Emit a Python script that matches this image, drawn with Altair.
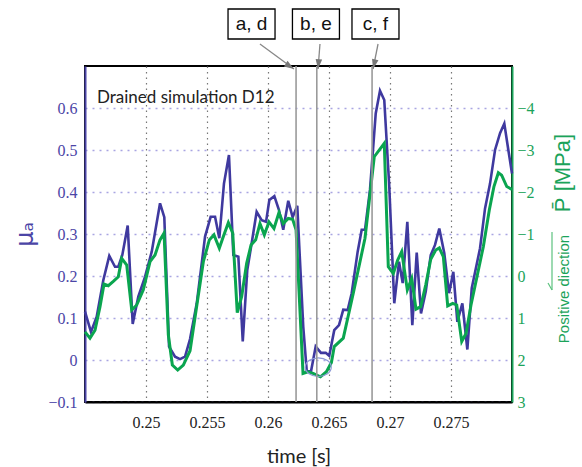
import altair as alt
import pandas as pd

# ---- data ----
blue_t = [0.24500, 0.24549, 0.24596, 0.24650, 0.24699, 0.24746, 0.24773, 0.24806, 0.24850,
          0.24891, 0.24937, 0.24992, 0.25047, 0.25115, 0.25150, 0.25189, 0.25238, 0.25279,
          0.25320, 0.25361, 0.25416, 0.25484, 0.25530, 0.25566, 0.25601, 0.25639, 0.25680,
          0.25716, 0.25757, 0.25793, 0.25830, 0.25866, 0.25907, 0.25948, 0.25984, 0.26011,
          0.26052, 0.26090, 0.26125, 0.26166, 0.26202, 0.26240, 0.26289, 0.26317, 0.26352,
          0.26391, 0.26434, 0.26473, 0.26502, 0.26543, 0.26582, 0.26617, 0.26653, 0.26686,
          0.26735, 0.26768, 0.26795, 0.26836, 0.26883, 0.26918, 0.26953, 0.26994, 0.27035,
          0.27074, 0.27104, 0.27142, 0.27183, 0.27219, 0.27254, 0.27293, 0.27334, 0.27369,
          0.27404, 0.27445, 0.27484, 0.27519, 0.27552, 0.27593, 0.27634, 0.27670, 0.27738,
          0.27779, 0.27820, 0.27861, 0.27902, 0.27937, 0.27970, 0.28000]
blue_mu = [0.115, 0.067, 0.103, 0.190, 0.248, 0.222, 0.222, 0.250, 0.320,
           0.086, 0.151, 0.198, 0.258, 0.373, 0.340, 0.032, 0.008, 0.002,
           0.008, 0.050, 0.135, 0.294, 0.341, 0.341, 0.290, 0.420, 0.488,
           0.250, 0.246, 0.044, 0.214, 0.278, 0.353, 0.333, 0.329, 0.381,
           0.390, 0.357, 0.310, 0.379, 0.340, 0.367, 0.079, -0.024, -0.028,
           0.032, 0.017, 0.017, 0.010, 0.071, 0.083, 0.120, 0.119, 0.159,
           0.258, 0.310, 0.310, 0.405, 0.587, 0.641, 0.619, 0.413, 0.135,
           0.234, 0.183, 0.329, 0.083, 0.256, 0.111, 0.163, 0.250, 0.274,
           0.313, 0.254, 0.159, 0.210, 0.091, 0.135, 0.025, 0.171, 0.266,
           0.361, 0.420, 0.500, 0.540, 0.563, 0.500, 0.444]

green_t = [0.24500, 0.24541, 0.24582, 0.24623, 0.24656, 0.24691, 0.24732, 0.24773, 0.24801,
           0.24842, 0.24883, 0.24924, 0.24978, 0.25033, 0.25074, 0.25115, 0.25148, 0.25183,
           0.25216, 0.25260, 0.25306, 0.25361, 0.25470, 0.25519, 0.25557, 0.25601, 0.25634,
           0.25675, 0.25711, 0.25748, 0.25784, 0.25825, 0.25861, 0.25899, 0.25934, 0.25970,
           0.26008, 0.26049, 0.26090, 0.26125, 0.26166, 0.26202, 0.26230, 0.26287, 0.26328,
           0.26369, 0.26430, 0.26479, 0.26520, 0.26543, 0.26617, 0.26699, 0.26795, 0.26871,
           0.26953, 0.26986, 0.27027, 0.27063, 0.27096, 0.27142, 0.27178, 0.27213, 0.27252,
           0.27293, 0.27334, 0.27375, 0.27404, 0.27437, 0.27473, 0.27514, 0.27547, 0.27588,
           0.27623, 0.27664, 0.27765, 0.27814, 0.27852, 0.27888, 0.27915, 0.27957, 0.28000]
green_p = [1.33, 1.48, 1.29, 0.73, 0.19, 0.23, 0.13, 0.02, -0.42,
           -0.26, 0.81, 0.69, 0.33, -0.34, -0.50, -0.86, -1.02, 1.40,
           2.12, 2.24, 2.12, 1.78, -0.34, -0.86, -0.98, -0.66, -0.94,
           -1.27, -1.02, 0.87, 0.49, -0.30, -0.74, -0.86, -1.25, -0.98,
           -1.29, -1.13, -1.51, -1.25, -1.37, -1.35, -1.10, 2.32, 2.28,
           2.32, 2.40, 2.28, 2.06, 1.68, 1.48, 0.41, -0.90, -2.84,
           -3.16, -0.22, -0.06, -0.38, -0.58, 0.33, 0.06, 0.79, 0.73,
           0.21, -0.40, -0.62, -0.67, -0.46, 0.71, 0.65, 0.69, 1.56,
           1.37, 0.69, -0.70, -1.57, -2.13, -2.46, -2.40, -2.13, -2.06]

event_t = [0.2623, 0.2640, 0.26853]
label_t = [0.25865, 0.26393, 0.26881]
label_text = ["a, d", "b, e", "c, f"]
arrow_t0 = [0.25934, 0.26426, 0.26902]
arrow_t1 = [0.26213, 0.26410, 0.26861]
arrow_angle = [123, 185, 193]
circle_t = [0.26412]
circle_mu = [-0.017]

x_ticks = [0.25, 0.255, 0.26, 0.265, 0.27, 0.275]
left_ticks = [-0.1, 0, 0.1, 0.2, 0.3, 0.4, 0.5, 0.6]
right_ticks = [-4, -3, -2, -1, 0, 1, 2, 3]

BLUE = "#3f399f"
GREEN = "#0aa54f"
AXBLUE = "#4b45a6"
AXGREEN = "#1ba35a"

blue_df = pd.DataFrame({"t": blue_t, "mu": blue_mu})
green_df = pd.DataFrame({"t": green_t, "p": green_p})
event_df = pd.DataFrame({"t": event_t})
label_df = pd.DataFrame({"t": label_t, "txt": label_text})
arrow_df = pd.DataFrame({"t0": arrow_t0, "t1": arrow_t1, "ang": arrow_angle})
circle_df = pd.DataFrame({"t": circle_t, "mu": circle_mu})

xscale = alt.Scale(domain=[0.245, 0.28], nice=False, zero=False)
lscale = alt.Scale(domain=[-0.1, 0.7], nice=False, zero=False)
rscale = alt.Scale(domain=[-5, 3], nice=False, zero=False, reverse=True)

x_axis = alt.Axis(values=x_ticks, format=".3~f", ticks=False, labelFont="Liberation Serif",
                  labelFontSize=16, labelColor="#222", labelPadding=12,
                  grid=True, gridColor="#777", gridDash=[1.5, 4], gridWidth=1.2,
                  domainColor="black", domainWidth=2,
                  title="time [s]", titleFont="Lato", titleFontSize=20,
                  titleFontWeight="normal", titleColor="#222", titleY=60,
                  titleBaseline="alphabetic")


def X(field):
    return alt.X(field, scale=xscale, axis=x_axis)


blue_line = alt.Chart(blue_df).mark_line(color=BLUE, strokeWidth=2.6).encode(
    x=X("t:Q"),
    y=alt.Y("mu:Q", scale=lscale, axis=alt.Axis(
        values=left_ticks, ticks=False, labelFont="Liberation Serif",
        labelExpr="datum.value == 0 ? '0' : format(datum.value, '.1f')",
        labelFontSize=16, labelColor=AXBLUE, labelPadding=8,
        grid=True, gridColor="#a9a5e2", gridDash=[2, 5], gridWidth=1.5,
        domainColor=AXBLUE, domainWidth=2,
        title="μₐ", titleFont="DejaVu Sans", titleFontSize=24, titleFontWeight="normal",
        titleColor=AXBLUE, titleAngle=270, titleX=-60, titleY=168,
        titleAlign="center", titleBaseline="middle")),
)

circle = alt.Chart(circle_df).mark_point(
    shape="M-1,0A1,0.72,0,1,0,1,0A1,0.72,0,1,0,-1,0Z", size=676, filled=False,
    color="#8d9ad6", strokeWidth=1.2, opacity=1).encode(
    x=X("t:Q"),
    y=alt.Y("mu:Q", scale=lscale, axis=None),
)

green_line = alt.Chart(green_df).mark_line(color=GREEN, strokeWidth=3).encode(
    x=X("t:Q"),
    y=alt.Y("p:Q", scale=rscale, axis=alt.Axis(
        orient="right", values=right_ticks, format="d", ticks=False,
        labelFont="Liberation Serif", labelFontSize=16, labelColor=AXGREEN,
        labelPadding=5, grid=False, domainColor=AXGREEN, domainWidth=2, title=None)),
)

events = alt.Chart(event_df).mark_rule(color="#9a9a9a", strokeWidth=1.6).encode(
    x=X("t:Q"),
    y=alt.value(0), y2=alt.value(336),
)

boxes = alt.Chart(label_df).mark_point(
    shape="M-1,-0.638L1,-0.638L1,0.638L-1,0.638Z", size=2209, filled=False,
    color="black", strokeWidth=1.3, opacity=1).encode(
    x=X("t:Q"), y=alt.value(-42),
)
box_text = alt.Chart(label_df).mark_text(
    font="Liberation Sans", fontSize=19, color="#111", baseline="middle", align="center").encode(
    x=X("t:Q"), y=alt.value(-42), text="txt:N",
)
arrow_lines = alt.Chart(arrow_df).mark_rule(color="#888", strokeWidth=1.3).encode(
    x=X("t0:Q"), x2="t1:Q",
    y=alt.value(-22), y2=alt.value(3),
)
arrow_heads = alt.Chart(arrow_df).mark_point(
    shape="M0,0L-0.6,1.8L0.6,1.8Z", size=120, filled=True, color="#777", opacity=1).encode(
    x=X("t1:Q"), y=alt.value(3),
    angle=alt.Angle("ang:Q", scale=None),
)

title_txt = alt.Chart(pd.DataFrame({"s": ["Drained simulation D12"]})).mark_text(
    font="Lato", fontSize=17, color="#222", align="left", baseline="alphabetic").encode(
    x=alt.value(12), y=alt.value(37), text="s:N")

p_title = alt.Chart(pd.DataFrame({"s": ["P̄ [MPa]"]})).mark_text(
    font="Liberation Sans", fontSize=22, color=AXGREEN, align="center", baseline="middle",
    angle=270).encode(x=alt.value(478), y=alt.value(107), text="s:N")

pos_txt = alt.Chart(pd.DataFrame({"s": ["Positive diection"]})).mark_text(
    font="Liberation Sans", fontSize=15, color=AXGREEN, align="center", baseline="middle",
    angle=270).encode(x=alt.value(479), y=alt.value(223), text="s:N")

pos_arrow = alt.Chart(pd.DataFrame({"a": [0]})).mark_rule(color="#5cc27e", strokeWidth=1.2).encode(
    x=alt.value(467), y=alt.value(166), y2=alt.value(224))
pos_hook = alt.Chart(pd.DataFrame({"a": [0]})).mark_rule(color="#5cc27e", strokeWidth=1.2).encode(
    x=alt.value(463), x2=alt.value(467), y=alt.value(217), y2=alt.value(224))

chart = alt.layer(
    blue_line, green_line, circle, events, boxes, box_text, arrow_lines, arrow_heads,
    title_txt, p_title, pos_txt, pos_arrow, pos_hook,
).resolve_scale(y="independent").properties(
    width=427, height=336,
    padding={"left": 85, "top": 66, "right": 70, "bottom": 65},
    autosize=alt.AutoSizeParams(type="none"),
).configure_view(stroke="black", strokeWidth=2)

chart.save("out.html", embed_options={"renderer": "svg", "actions": False})
